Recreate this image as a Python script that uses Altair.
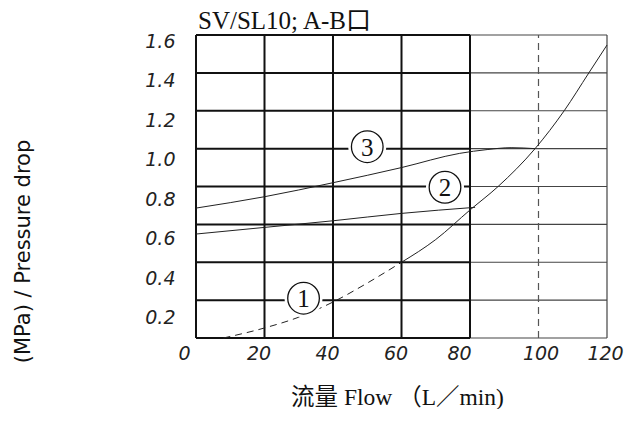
import altair as alt
import pandas as pd

# ---- data ----
x_ticks = [0, 20, 40, 60, 80, 100, 120]
y_ticks = [0.2, 0.4, 0.6, 0.8, 1.0, 1.2, 1.4, 1.6]
h_grid = [0.0, 0.2, 0.4, 0.6, 0.8, 1.0, 1.2, 1.4, 1.6]
v_major = [0, 20, 40, 60, 80]
v_edge = [120]
v_dashed = [100]

c1_dash_x = [8, 20, 30, 40, 50, 60]
c1_dash_y = [0.0, 0.053, 0.11, 0.19, 0.29, 0.40]
c1_solid_x = [60, 70, 80, 88.2, 99, 107.5, 114.7, 120]
c1_solid_y = [0.40, 0.52, 0.676, 0.80, 1.0, 1.2, 1.4, 1.547]
c2_x = [0, 20, 40, 60, 81.5]
c2_y = [0.549, 0.584, 0.619, 0.658, 0.69]
c3_x = [0, 20, 40, 60, 77, 85, 92, 99]
c3_y = [0.686, 0.746, 0.82, 0.90, 0.975, 0.995, 1.005, 1.0]

label_x = [31.4, 72.7, 50.0]
label_y = [0.21, 0.796, 1.01]
label_text = ["1", "2", "3"]

title_text = "SV/SL10; A-B口"
x_title = "流量 Flow （L／min)"
y_title = "(MPa) / Pressure drop"

# ---- encodings ----
xaxis = alt.Axis(values=x_ticks, format="d", title=x_title, grid=False, domain=False,
                 ticks=False, tickSize=0, labelFont="DejaVu Sans", labelFontStyle="italic",
                 labelFontSize=19, labelColor="#222", labelPadding=6,
                 labelOffset={"expr": "datum.value == 0 ? -12 : datum.value == 80 ? -11 : datum.value == 100 ? 2 : datum.value == 120 ? -2 : -6"},
                 labelFlush=False, titleFont="Liberation Serif, Noto Sans CJK SC",
                 titleFontSize=23.5, titleFontWeight="normal", titleColor="#111",
                 titleX=201, titleY=66, titleBaseline="alphabetic")
yaxis = alt.Axis(values=y_ticks, format=".1f", title=y_title, grid=False, domain=False,
                 ticks=False, tickSize=0, labelFont="DejaVu Sans", labelFontStyle="italic",
                 labelFontSize=19, labelColor="#222", labelPadding=21,
                 labelOffset={"expr": "19 - 8*datum.value"}, labelFlush=False,
                 titleFont="DejaVu Sans", titleFontSize=21, titleFontWeight="normal",
                 titleColor="#111", titleX=-173, titleY=216, titleBaseline="middle")

xs = alt.Scale(domain=[0, 120], nice=False, zero=False)
ys = alt.Scale(domain=[0, 1.6], nice=False, zero=False)
X = alt.X("x:Q", scale=xs, axis=xaxis)
Y = alt.Y("y:Q", scale=ys, axis=yaxis)

hmaj = pd.DataFrame({"y": h_grid, "x": [0] * len(h_grid), "x2": [80] * len(h_grid)})
hmin = pd.DataFrame({"y": h_grid, "x": [80] * len(h_grid), "x2": [120] * len(h_grid)})
vmaj = pd.DataFrame({"x": v_major, "y": [0] * len(v_major), "y2": [1.6] * len(v_major)})
vedge = pd.DataFrame({"x": v_edge, "y": [0], "y2": [1.6]})
vdash = pd.DataFrame({"x": v_dashed, "y": [0], "y2": [1.6]})

l_hmaj = alt.Chart(hmaj).mark_rule(color="#111", strokeWidth=2).encode(x=X, x2="x2:Q", y=Y)
l_hmin = alt.Chart(hmin).mark_rule(color="#444", strokeWidth=1.2).encode(x=X, x2="x2:Q", y=Y)
l_vmaj = alt.Chart(vmaj).mark_rule(color="#111", strokeWidth=2).encode(x=X, y=Y, y2="y2:Q")
l_vedge = alt.Chart(vedge).mark_rule(color="#444", strokeWidth=1.2).encode(x=X, y=Y, y2="y2:Q")
l_vdash = alt.Chart(vdash).mark_rule(color="#555", strokeWidth=1.2, strokeDash=[7, 5]).encode(x=X, y=Y, y2="y2:Q")

c1d = pd.DataFrame({"x": c1_dash_x, "y": c1_dash_y})
c1s = pd.DataFrame({"x": c1_solid_x, "y": c1_solid_y})
c2 = pd.DataFrame({"x": c2_x, "y": c2_y})
c3 = pd.DataFrame({"x": c3_x, "y": c3_y})

l_c1d = alt.Chart(c1d).mark_line(color="#222", strokeWidth=1, strokeDash=[7, 5], interpolate="monotone").encode(x=X, y=Y)
l_c1s = alt.Chart(c1s).mark_line(color="#222", strokeWidth=1, interpolate="monotone").encode(x=X, y=Y)
l_c2 = alt.Chart(c2).mark_line(color="#222", strokeWidth=1, interpolate="monotone").encode(x=X, y=Y)
l_c3 = alt.Chart(c3).mark_line(color="#222", strokeWidth=1, interpolate="monotone").encode(x=X, y=Y)

lab = pd.DataFrame({"x": label_x, "y": label_y, "t": label_text})
l_bg = alt.Chart(lab).mark_point(shape="circle", filled=True, color="white", opacity=1, size=1450).encode(x=X, y=Y)
l_circ = alt.Chart(lab).mark_point(shape="circle", filled=False, color="#111", strokeWidth=1.3, opacity=1, size=1000).encode(x=X, y=Y)
l_txt = alt.Chart(lab).mark_text(font="Liberation Serif", fontSize=25, color="#111", baseline="middle", align="center", dy=1).encode(x=X, y=Y, text="t:N")

chart = alt.layer(
    l_hmaj, l_hmin, l_vmaj, l_vedge, l_vdash, l_c1d, l_c1s, l_c2, l_c3, l_bg, l_circ, l_txt
).properties(
    width=411, height=303,
    autosize=alt.AutoSizeParams(type="none"),
    padding={"left": 188, "top": 27, "right": 22, "bottom": 71},
    title=alt.TitleParams(text=title_text, anchor="start", frame="group",
                          font="Liberation Serif, Noto Sans CJK SC", fontSize=25,
                          fontWeight="normal", baseline="alphabetic", offset=-22, dx=2, color="#111"),
    background="white",
).configure_view(stroke=None)

chart.save("out.html", embed_options={"renderer": "svg", "actions": False})
